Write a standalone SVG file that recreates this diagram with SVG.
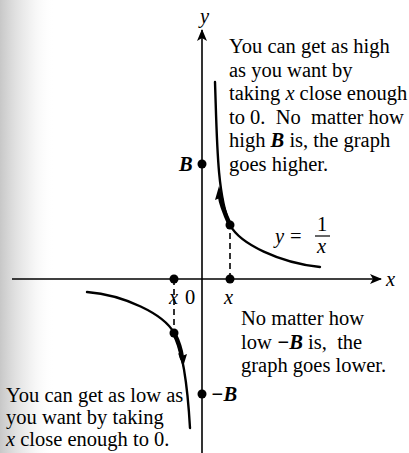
<svg xmlns="http://www.w3.org/2000/svg" width="409" height="453" viewBox="0 0 409 453">
<defs>
<linearGradient id="scan" x1="0" y1="0" x2="1" y2="0">
<stop offset="0" stop-color="#9a9a9a" stop-opacity="0.55"/>
<stop offset="0.5" stop-color="#c8c8c8" stop-opacity="0.3"/>
<stop offset="1" stop-color="#ffffff" stop-opacity="0"/>
</linearGradient>
<marker id="ah" viewBox="0 0 12 10" refX="11" refY="5" markerWidth="12" markerHeight="10" markerUnits="userSpaceOnUse" orient="auto">
<path d="M0,0 L12,5 L0,10 L3,5 Z" fill="#000"/>
</marker>
</defs>
<style>
.t{font-family:"Liberation Serif","Times New Roman",serif;font-size:20.5px;fill:#000;white-space:pre}
.i{font-style:italic}
.b{font-style:italic;font-weight:bold}
.ax{stroke:#000;stroke-width:1.6;fill:none}
.cv{stroke:#000;stroke-width:2.4;fill:none;stroke-linecap:round}
.th{stroke:#000;stroke-width:4.5;fill:none;stroke-linecap:round}
.ds{stroke:#000;stroke-width:1.6;stroke-dasharray:6 4;fill:none}
.dot{fill:#000}
</style>
<rect x="0" y="0" width="55" height="453" fill="url(#scan)"/>
<g id="connectors">
<line id="x-axis" class="ax" x1="12" y1="279" x2="381" y2="279" marker-end="url(#ah)"/>
<line id="y-axis" class="ax" x1="202" y1="453" x2="202" y2="30" marker-end="url(#ah)"/>
<line class="ds" x1="230" y1="279" x2="230" y2="226"/>
<line class="ds" x1="174" y1="279" x2="174" y2="333"/>
<path id="upper-branch" class="cv" d="M215,82 C217,140 217,195 230,225 C240,244 280,263 320,267"/>
<path id="lower-branch" class="cv" d="M87,292 C124,295 164,314 174,333 C181,348 187,375 190,428"/>
<path class="th" d="M230,225 C225,214 221,205 220,196"/>
<path d="M219,186 L224,201 L220,198 L215,200 Z" fill="#000"/>
<path class="th" d="M174,333 C178,341 181,350 182,358"/>
<path d="M183,367 L178,353 L182,356 L187,354 Z" fill="#000"/>
</g>
<g id="points">
<circle class="dot" cx="230" cy="279" r="4.5"/>
<circle class="dot" cx="174" cy="279" r="4.5"/>
<circle class="dot" cx="230" cy="225" r="4.5"/>
<circle class="dot" cx="174" cy="333" r="4.5"/>
<circle id="B" class="dot" cx="202" cy="164" r="4.5"/>
<circle id="minusB" class="dot" cx="202" cy="394" r="4.5"/>
</g>
<g id="axis-labels">
<text class="t i" x="200" y="23">y</text>
<text class="t i" x="386" y="286">x</text>
<text class="t i" x="224" y="304">x</text>
<text class="t i" x="169" y="304">x</text>
<text class="t" x="185" y="304">0</text>
<text class="t b" x="179" y="171">B</text>
<text class="t b" x="211" y="401">−B</text>
</g>
<g id="equation">
<text class="t i" x="275" y="243">y</text>
<text class="t" x="290" y="243">=</text>
<text class="t" x="317" y="231">1</text>
<line x1="315" y1="236" x2="330" y2="236" stroke="#000" stroke-width="1.2"/>
<text class="t i" x="317" y="253">x</text>
</g>
<g id="note-high">
<text class="t" x="229" y="53">You can get as high</text>
<text class="t" x="229" y="76.5">as you want by</text>
<text class="t" x="229" y="100">taking <tspan class="i">x</tspan> close enough</text>
<text class="t" x="229" y="123.5">to 0.  No  matter how</text>
<text class="t" x="229" y="147">high <tspan class="b">B</tspan> is, the graph</text>
<text class="t" x="229" y="170.5">goes higher.</text>
</g>
<g id="note-lower">
<text class="t" x="241" y="325">No matter how</text>
<text class="t" x="241" y="348.5">low <tspan class="b">−B</tspan> is,  the</text>
<text class="t" x="241" y="372">graph goes lower.</text>
</g>
<g id="note-low">
<text class="t" x="6" y="402">You can get as low as</text>
<text class="t" x="6" y="424">you want by taking</text>
<text class="t" x="6" y="446"><tspan class="i">x</tspan> close enough to 0.</text>
</g>
</svg>
